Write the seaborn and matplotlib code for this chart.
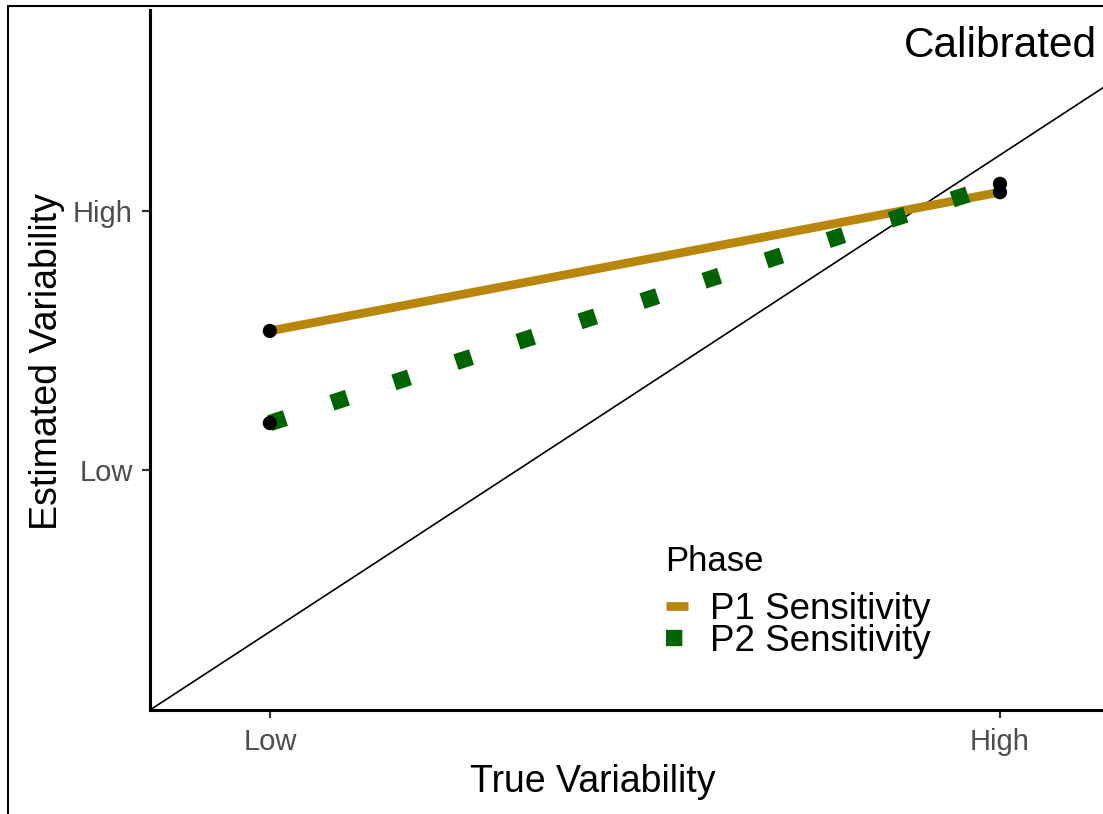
import matplotlib
matplotlib.use("Agg")
import matplotlib.pyplot as plt
import seaborn as sns
import pandas as pd
from matplotlib.lines import Line2D

# ---- data ----
phases = ["P1 Sensitivity", "P2 Sensitivity"]
true_labels = ["Low", "High"]
true_pos = [0.141, 1.0]
est_labels = ["Low", "High"]
est_pos = [0.432, 0.90]
p1_est = [0.683, 0.933]
p2_est = [0.517, 0.948]
phase_colors = ["#B8860B", "#006400"]

df = pd.DataFrame({
    "Phase": [phases[0]] * 2 + [phases[1]] * 2,
    "True": true_pos + true_pos,
    "Estimated": p1_est + p2_est,
})

sns.set_theme(style="white")
plt.rcParams["font.family"] = ["Liberation Sans", "DejaVu Sans"]

W, H = 1103, 814
fig = plt.figure(figsize=(W / 100, H / 100), dpi=100)
ax = fig.add_axes([150 / W, (H - 710) / H, (W - 150) / W, 700 / H])
ax.set_xlim(0, 953 / 850)
ax.set_ylim(0, 700 / 555)

# calibration line
ax.axline((0, 0), slope=1, color="black", lw=1.2, zorder=1)

sns.lineplot(data=df[df.Phase == phases[0]], x="True", y="Estimated",
             color=phase_colors[0], lw=6.3, solid_capstyle="butt",
             ax=ax, legend=False, zorder=2)
sns.lineplot(data=df[df.Phase == phases[1]], x="True", y="Estimated",
             color=phase_colors[1], lw=11.75, linestyle=(0, (1, 3)),
             dash_capstyle="butt", ax=ax, legend=False, zorder=2)
sns.scatterplot(data=df, x="True", y="Estimated", color="black", s=105,
                edgecolor="none", ax=ax, legend=False, zorder=3)

ax.set_xticks(true_pos, true_labels)
ax.set_yticks(est_pos, est_labels)
ax.tick_params(axis="both", labelsize=21, labelcolor="#4D4D4D", color="#333333",
               length=6, width=1.6, direction="out", left=True, bottom=True, pad=6.6)
ax.set_xlabel("")
ax.set_ylabel("")
sns.despine(ax=ax)
for s in ["left", "bottom"]:
    ax.spines[s].set_linewidth(2.2)
    ax.spines[s].set_color("black")

ax.text((1097 - 150) / 953, (710 - 57) / 700, "Calibrated", transform=ax.transAxes,
        ha="right", va="baseline", fontsize=30.5, color="black")

# axis titles
fig.text(593 / W, (H - 792) / H, "True Variability", ha="center", va="baseline",
         fontsize=27, color="black")
fig.text(57 / W, (H - 362) / H, "Estimated Variability", rotation=90,
         rotation_mode="anchor", ha="center", va="baseline", fontsize=27, color="black")

# legend title + entries
fig.text(665 / W, (H - 571) / H, "Phase", ha="left", va="baseline",
         fontsize=25, color="black")
handles = [
    Line2D([], [], color=phase_colors[0], lw=6.3, solid_capstyle="butt"),
    Line2D([], [], color=phase_colors[1], lw=11.75, linestyle=(0, (1, 3)),
           dash_capstyle="butt"),
]
leg = fig.legend(handles, phases, loc="upper left",
                 bbox_to_anchor=(666 / W, (H - 592) / H), frameon=False,
                 fontsize=26.5, labelcolor="black", handlelength=0.6,
                 handletextpad=0.6, labelspacing=-0.09, borderpad=0, borderaxespad=0)

# outer frame (left and top edges visible)
fig.add_artist(Line2D([8 / W, 8 / W], [0, (H - 6) / H], transform=fig.transFigure,
                      color="black", lw=1.5))
fig.add_artist(Line2D([8 / W, 1], [(H - 6) / H, (H - 6) / H], transform=fig.transFigure,
                      color="black", lw=1.5))

fig.savefig("out.png", dpi=100)
